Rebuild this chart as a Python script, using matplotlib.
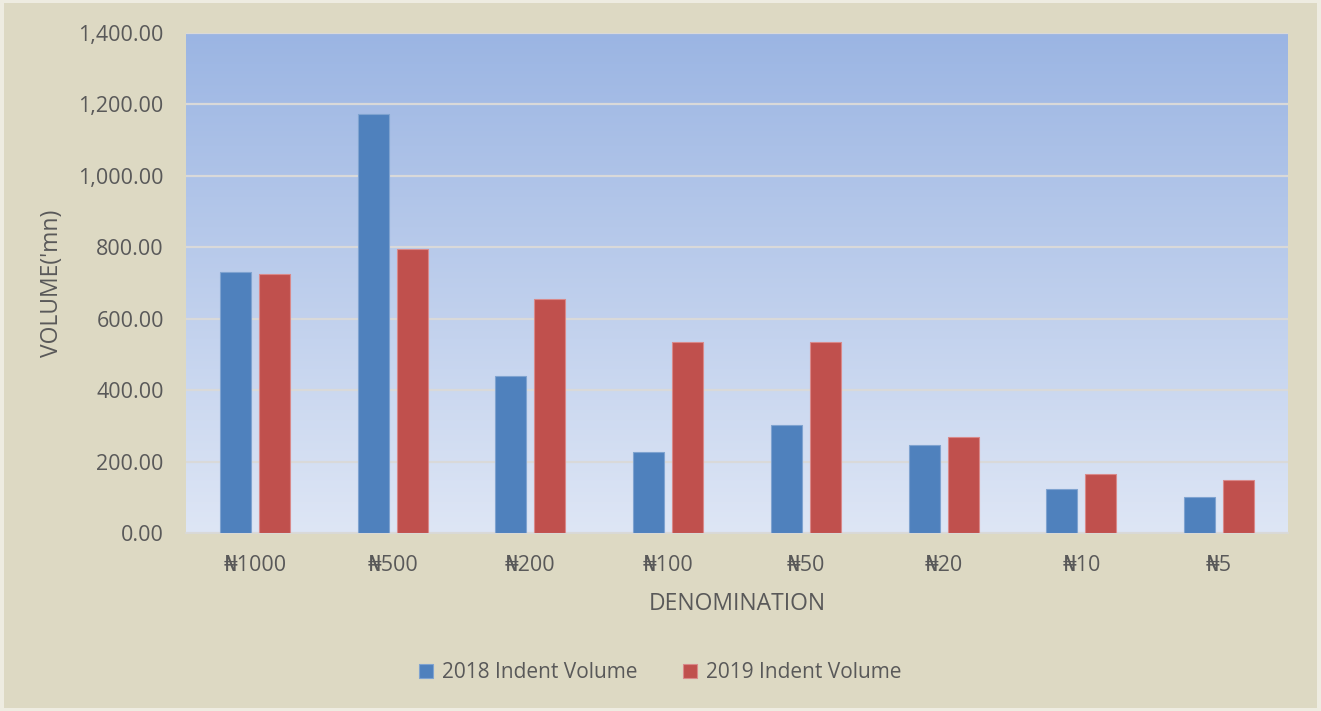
import matplotlib.pyplot as plt
import numpy as np
from matplotlib.patches import Rectangle
from matplotlib.ticker import FuncFormatter

# --- DATA ---
denominations = ["₦1000", "₦500", "₦200", "₦100", "₦50", "₦20", "₦10", "₦5"]
vol_2018 = [730, 1173, 440, 226, 302, 246, 124, 100]
vol_2019 = [725, 794, 656, 536, 535, 268, 165, 149]
series_labels = ["2018 Indent Volume", "2019 Indent Volume"]

# --- STYLE ---
plt.rcParams['font.family'] = ['Open Sans', 'DejaVu Sans']
text_col = "#595959"
blue = "#4F81BD"
red = "#C0504D"

fig = plt.figure(figsize=(13.21, 7.11), dpi=100)
fig.patch.set_facecolor("#EEECE1")
fig.patches.append(Rectangle((4 / 1321, 3 / 711), 1313 / 1321, 705 / 711,
                             transform=fig.transFigure, facecolor="#DDD9C3",
                             edgecolor="none", zorder=-10))

ax = fig.add_axes([186 / 1321, 1 - 533 / 711, 1102 / 1321, 500 / 711])
ax.set_facecolor("none")

# gradient plot background (light at bottom, darker blue at top)
grad = np.linspace(0, 1, 256).reshape(-1, 1)
top = np.array([0x9B, 0xB5, 0xE3]) / 255
bot = np.array([0xDE, 0xE6, 0xF5]) / 255
img = (bot + (top - bot) * grad).reshape(256, 1, 3)
ax.imshow(img, extent=[0, 1, 0, 1], transform=ax.transAxes, origin="lower",
          aspect="auto", zorder=0)

x = np.arange(len(denominations))
w = 0.225
off = 0.1416
ax.bar(x - off, vol_2018, w, color=blue, edgecolor="#7FA3D0", linewidth=0.8,
       label=series_labels[0], zorder=3)
ax.bar(x + off, vol_2019, w, color=red, edgecolor="#D9898A", linewidth=0.8,
       label=series_labels[1], zorder=3)

ax.set_xlim(-0.5, len(denominations) - 0.5)
ax.set_ylim(0, 1400)
ax.set_yticks(np.arange(0, 1401, 200))
ax.yaxis.set_major_formatter(FuncFormatter(lambda v, p: f"{v:,.2f}"))
ax.set_xticks(x)
ax.set_xticklabels(denominations)

ax.grid(axis="y", color="#D9D9D9", linewidth=1.6, zorder=1)
ax.set_axisbelow(True)
for s in ["top", "right", "left"]:
    ax.spines[s].set_visible(False)
ax.spines["bottom"].set_color("#D9D9D9")
ax.spines["bottom"].set_linewidth(1.2)
ax.tick_params(length=0, labelsize=15.5, colors=text_col)
ax.tick_params(axis="x", pad=16)
ax.tick_params(axis="y", pad=16)

ax.set_xlabel("DENOMINATION", fontsize=16.5, color=text_col, labelpad=11)
ax.set_ylabel("VOLUME('mn)", fontsize=16.5, color=text_col, labelpad=10)

fig.legend(loc="center", bbox_to_anchor=(0.5, 1 - 673 / 711), ncol=2,
           frameon=False, fontsize=15, labelcolor=text_col,
           handlelength=0.65, handleheight=0.65, columnspacing=2.2,
           handletextpad=0.45)

fig.savefig("out.png", dpi=100, facecolor=fig.get_facecolor())
